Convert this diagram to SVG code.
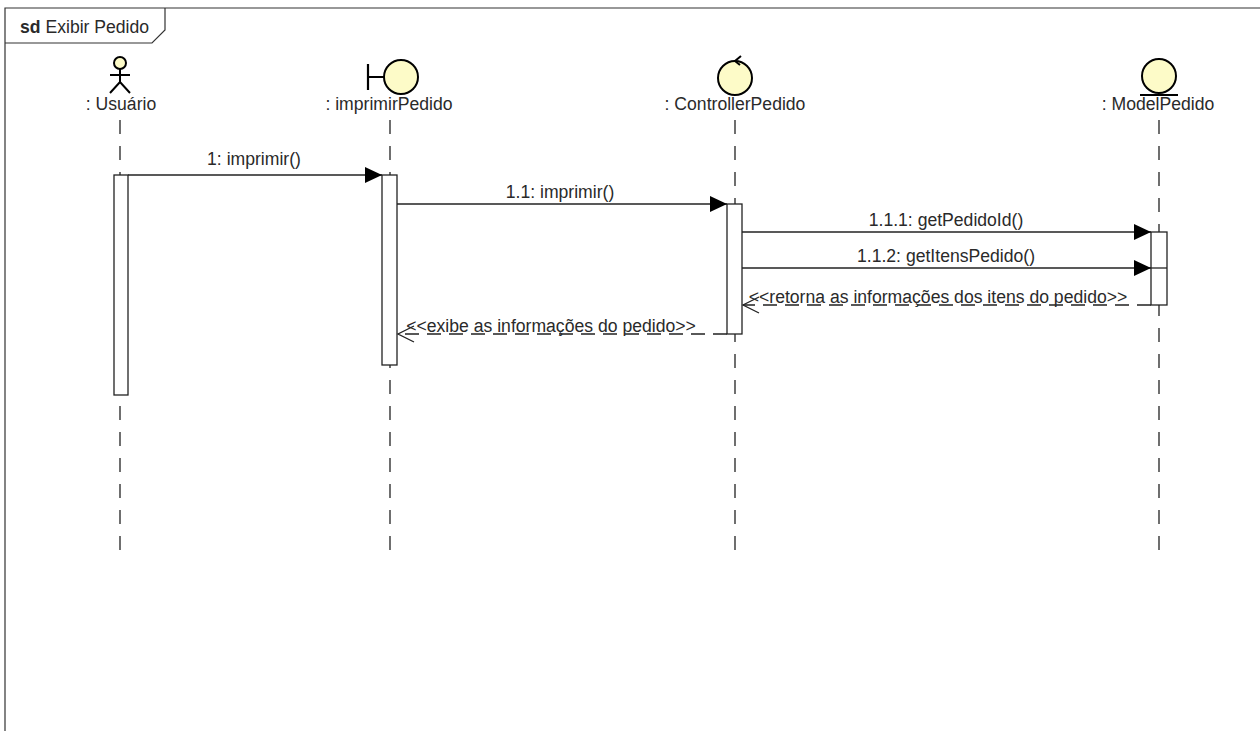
<svg xmlns="http://www.w3.org/2000/svg" width="1260" height="731" viewBox="0 0 1260 731">
<style>
text{font-family:"Liberation Sans",Arial,sans-serif;font-size:17.6px;fill:#2a2a2a}
.life{stroke:#222;stroke-width:1.3;stroke-dasharray:14,12;fill:none}
.act{fill:#fff;stroke:#222;stroke-width:1.3}
.ico{fill:#fdfbc8;stroke:#000;stroke-width:2}
.msg{stroke:#222;stroke-width:1.3;fill:none}
.ret{stroke:#222;stroke-width:1.3;fill:none;stroke-dasharray:14,8}
</style>
<defs>
<marker id="fill" markerWidth="18" markerHeight="18" refX="17" refY="8" orient="auto" markerUnits="userSpaceOnUse">
<path d="M0,0 L17,8 L0,16 Z" fill="#000"/>
</marker>
<marker id="open" markerWidth="20" markerHeight="20" refX="17" refY="9" orient="auto" markerUnits="userSpaceOnUse">
<path d="M1,1 L17,9 L1,17" fill="none" stroke="#222" stroke-width="1.3"/>
</marker>
</defs>
<rect width="1260" height="731" fill="#fff"/>
<g id="frame">
<path d="M5,731 L5,8 L1260,8" fill="none" stroke="#333" stroke-width="1.2"/>
<path d="M5,43 L152,43 L165,30 L165,8" fill="none" stroke="#333" stroke-width="1.2"/>
<text x="20" y="33"><tspan font-weight="bold">sd</tspan> Exibir Pedido</text>
</g>
<g id="usuario">
<line class="life" x1="120" y1="120" x2="120" y2="560"/>
<circle cx="120" cy="63" r="6" class="ico" stroke-width="1.8"/>
<path d="M120,69 L120,82 M110,75 L130,75 M110,93 L120,82 L130,93" stroke="#000" stroke-width="2" fill="none"/>
<text x="121" y="110" text-anchor="middle">: Usuário</text>
<rect class="act" x="114" y="175" width="14" height="220"/>
</g>
<g id="imprimirPedido">
<line class="life" x1="390" y1="120" x2="390" y2="560"/>
<path d="M368,64 L368,90 M368,77 L384,77" stroke="#000" stroke-width="2.2" fill="none"/>
<circle cx="401" cy="77" r="17" class="ico"/>
<text x="389" y="110" text-anchor="middle">: imprimirPedido</text>
<rect class="act" x="382" y="175" width="15" height="190"/>
</g>
<g id="controllerPedido">
<line class="life" x1="735" y1="120" x2="735" y2="560"/>
<circle cx="735" cy="78" r="17" class="ico"/>
<path d="M741,56 L735,61 L740,65" stroke="#000" stroke-width="2" fill="none"/>
<text x="735" y="110" text-anchor="middle">: ControllerPedido</text>
<rect class="act" x="727" y="204" width="15" height="130"/>
</g>
<g id="modelPedido">
<line class="life" x1="1159" y1="120" x2="1159" y2="560"/>
<circle cx="1159" cy="76" r="17" class="ico"/>
<line x1="1140" y1="95" x2="1178" y2="95" stroke="#000" stroke-width="2.2"/>
<text x="1158" y="110" text-anchor="middle">: ModelPedido</text>
<rect class="act" x="1151" y="232" width="16" height="73"/>
<line x1="1151" y1="268" x2="1167" y2="268" stroke="#222" stroke-width="1.3"/>
</g>
<g id="connectors">
<line class="msg" x1="128" y1="175" x2="382" y2="175" marker-end="url(#fill)"/>
<text x="254" y="165" text-anchor="middle">1: imprimir()</text>
<line class="msg" x1="397" y1="204" x2="727" y2="204" marker-end="url(#fill)"/>
<text x="560" y="198" text-anchor="middle">1.1: imprimir()</text>
<line class="msg" x1="742" y1="232" x2="1151" y2="232" marker-end="url(#fill)"/>
<text x="946" y="226" text-anchor="middle">1.1.1: getPedidoId()</text>
<line class="msg" x1="742" y1="268" x2="1151" y2="268" marker-end="url(#fill)"/>
<text x="946" y="262" text-anchor="middle">1.1.2: getItensPedido()</text>
<line class="ret" x1="1151" y1="305" x2="743" y2="305" marker-end="url(#open)"/>
<text x="938" y="303" text-anchor="middle">&lt;&lt;retorna as informações dos itens do pedido&gt;&gt;</text>
<line class="ret" x1="727" y1="334" x2="398" y2="334" marker-end="url(#open)"/>
<text x="551" y="332" text-anchor="middle">&lt;&lt;exibe as informações do pedido&gt;&gt;</text>
</g>
</svg>
